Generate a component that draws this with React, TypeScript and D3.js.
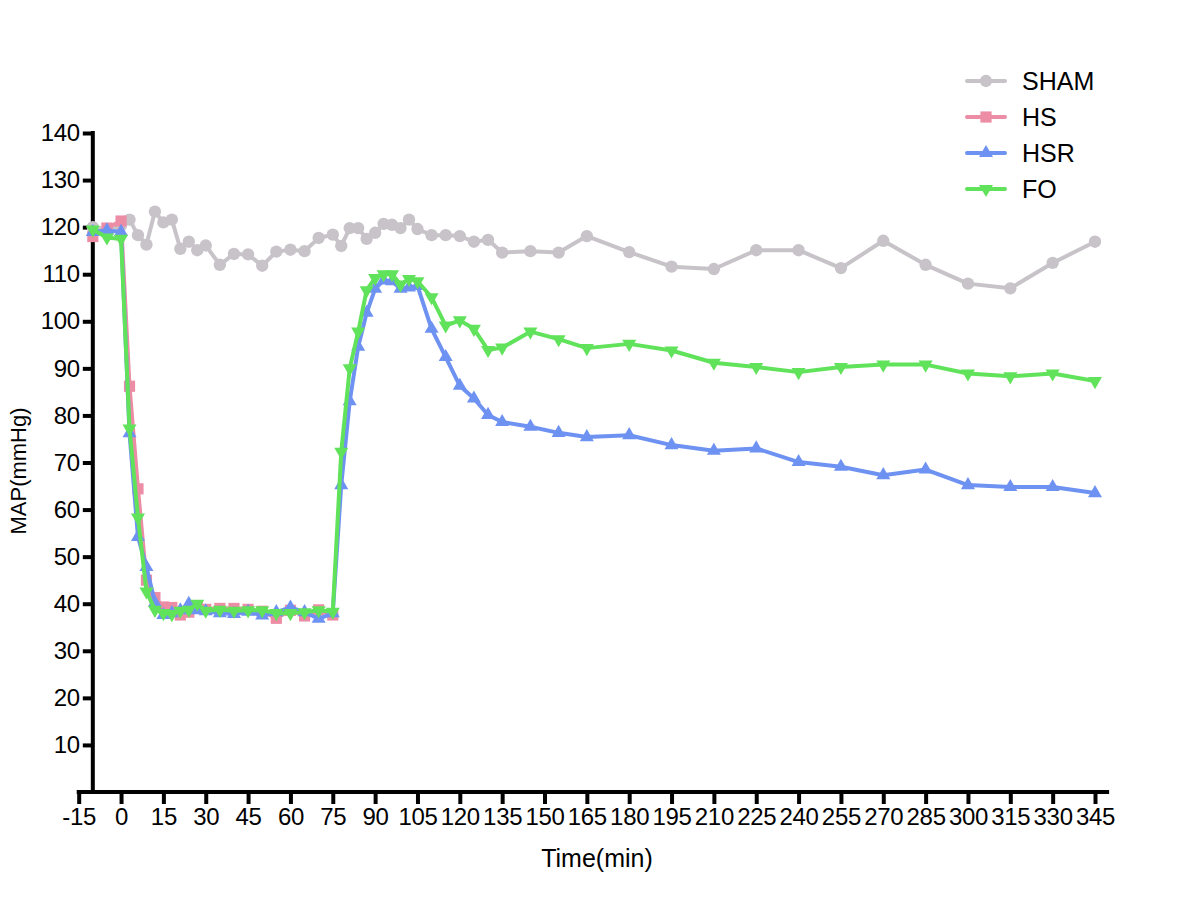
import React, { useEffect, useRef } from 'react';
import * as d3 from 'd3';

// time points (min)
const times = [
  -10, -5, 0, 3, 6, 9, 12, 15, 18, 21, 24, 27, 30,
  35, 40, 45, 50, 55, 60, 65, 70, 75,
  78, 81, 84, 87, 90, 93, 96, 99, 102, 105,
  110, 115, 120, 125, 130, 135,
  145, 155, 165,
  180, 195, 210, 225, 240, 255, 270, 285, 300, 315, 330, 345,
];

const sham = [
  120, 119.6, 120.4, 121.6, 118.3, 116.3, 123.3, 121, 121.6, 115.4, 116.9, 115.1, 116.1,
  112, 114.3, 114.2, 111.8, 114.8, 115.2, 114.9, 117.7, 118.4,
  116, 119.8, 119.8, 117.5, 118.8, 120.7, 120.5, 119.8, 121.6, 119.6,
  118.3, 118.3, 118.1, 116.9, 117.3, 114.6,
  114.9, 114.6, 118.1,
  114.7, 111.6, 111.1, 115.1, 115.1, 111.3, 117.1, 112, 108, 107, 112.4, 116.9,
];

// HS stops at 75 min
const hs = [
  118, 119.8, 121.3, 86.2, 64.4, 45, 41.3, 39.3, 39.2, 37.6, 38.2, 39.2, 38.8,
  39, 39, 38.8, 38.4, 36.9, 38.6, 37.4, 38.7, 37.6,
];

const hsr = [
  119, 119.3, 119, 76.2, 54.2, 47.8, 40.2, 37.6, 38, 38.6, 40, 38.6, 38.4,
  38, 37.8, 38.3, 37.5, 38.2, 39.2, 38.2, 36.8, 38,
  65.2, 83, 94.6, 101.8, 106.9, 108.7, 108.5, 106.9, 107.2, 107.5,
  98.4, 92.4, 86.3, 83.6, 80.1, 78.6,
  77.6, 76.3, 75.4,
  75.8, 73.7, 72.5, 73, 70.1, 69.1, 67.3, 68.5, 65.2, 64.8, 64.8, 63.5,
];

const fo = [
  119.5, 117.8, 117.5, 77.2, 58.3, 42.6, 38.7, 38, 37.8, 38.5, 38.7, 40, 38.5,
  38.7, 38.5, 38.6, 38.6, 38, 38, 38.2, 38.6, 38.3,
  72.3, 90, 97.8, 106.6, 109.2, 110, 110, 107.8, 109, 108.5,
  105.1, 99.1, 100.2, 98.4, 93.9, 94.4,
  97.8, 96.2, 94.3,
  95.2, 93.8, 91.2, 90.3, 89.2, 90.3, 90.8, 90.8, 88.9, 88.3, 88.9, 87.3,
];

const xTicks = d3.range(-15, 346, 15);
const yTicks = d3.range(10, 141, 10);

const seriesList = [
  { name: 'SHAM', values: sham, color: '#c7c3c9', symbol: d3.symbolCircle, size: 120, rotate: 0 },
  { name: 'HS', values: hs, color: '#ec8ca5', symbol: d3.symbolSquare, size: 125, rotate: 0 },
  { name: 'HSR', values: hsr, color: '#6e92f1', symbol: d3.symbolTriangle, size: 85, rotate: 0 },
  { name: 'FO', values: fo, color: '#60e25b', symbol: d3.symbolTriangle, size: 85, rotate: 180 },
];

const FONT = '"Liberation Sans", Arial, sans-serif';

export default function App() {
  const ref = useRef<SVGSVGElement>(null);

  useEffect(() => {
    const svg = d3.select(ref.current);
    svg.selectAll('*').remove();

    const x = d3.scaleLinear().domain([-15, 345]).range([78.7, 1095]);
    const y = d3.scaleLinear().domain([0, 140]).range([792, 133]);
    const axisX = x(-10);

    // x axis
    const gx = svg.append('g').attr('transform', `translate(0, ${y(0)})`);
    gx.call(
      d3.axisBottom(x).tickValues(xTicks).tickFormat((d) => String(d))
        .tickSize(12).tickPadding(4).tickSizeOuter(0)
    );
    gx.select('.domain').remove();
    gx.append('line')
      .attr('x1', x(-15) - 2).attr('x2', x(350))
      .attr('stroke', '#000').attr('stroke-width', 4);
    gx.selectAll('.tick line').attr('stroke', '#000').attr('stroke-width', 4);
    gx.selectAll('.tick text')
      .attr('fill', '#000')
      .style('font-family', FONT)
      .style('font-size', '24px')
      .style('letter-spacing', '-0.3px');

    // y axis
    const gy = svg.append('g').attr('transform', `translate(${axisX}, 0)`);
    gy.call(d3.axisLeft(y).tickValues(yTicks).tickSize(10).tickPadding(3).tickSizeOuter(0));
    gy.select('.domain').remove();
    gy.append('line')
      .attr('y1', y(140) - 2).attr('y2', y(0))
      .attr('stroke', '#000').attr('stroke-width', 4);
    gy.selectAll('.tick line').attr('stroke', '#000').attr('stroke-width', 4);
    gy.selectAll('.tick text')
      .attr('fill', '#000')
      .style('font-family', FONT)
      .style('font-size', '24px')
      .style('letter-spacing', '-0.3px');

    // axis titles
    svg.append('text')
      .attr('x', 597).attr('y', 867)
      .attr('text-anchor', 'middle')
      .style('font-family', FONT).style('font-size', '25px')
      .text('Time(min)');
    svg.append('text')
      .attr('transform', `translate(26, 471) rotate(-90)`)
      .attr('text-anchor', 'middle')
      .style('font-family', FONT).style('font-size', '22px')
      .text('MAP(mmHg)');

    // series
    const line = d3.line<number>()
      .x((_, i) => x(times[i]))
      .y((d) => y(d));

    seriesList.forEach((s) => {
      const g = svg.append('g');
      g.append('path')
        .datum(s.values)
        .attr('d', line)
        .attr('fill', 'none')
        .attr('stroke', s.color)
        .attr('stroke-width', 4)
        .attr('stroke-linejoin', 'round');
      g.selectAll('path.pt')
        .data(s.values)
        .enter()
        .append('path')
        .attr('class', 'pt')
        .attr('d', d3.symbol().type(s.symbol).size(s.size)())
        .attr('transform', (d, i) => `translate(${x(times[i])}, ${y(d)}) rotate(${s.rotate})`)
        .attr('fill', s.color);
    });

    // legend
    const lg = svg.append('g');
    seriesList.forEach((s, i) => {
      const ly = 81 + i * 36;
      lg.append('line')
        .attr('x1', 967).attr('x2', 1005).attr('y1', ly).attr('y2', ly)
        .attr('stroke', s.color).attr('stroke-width', 4).attr('stroke-linecap', 'round');
      lg.append('path')
        .attr('d', d3.symbol().type(s.symbol).size(s.size)())
        .attr('transform', `translate(986, ${ly}) rotate(${s.rotate})`)
        .attr('fill', s.color);
      lg.append('text')
        .attr('x', 1022).attr('y', ly + 9)
        .style('font-family', FONT).style('font-size', '25px')
        .text(s.name);
    });
  }, []);

  return (
    <svg
      ref={ref}
      width={1200}
      height={917}
      style={{ position: 'absolute', left: 0, top: 0, background: '#fff' }}
    />
  );
}
